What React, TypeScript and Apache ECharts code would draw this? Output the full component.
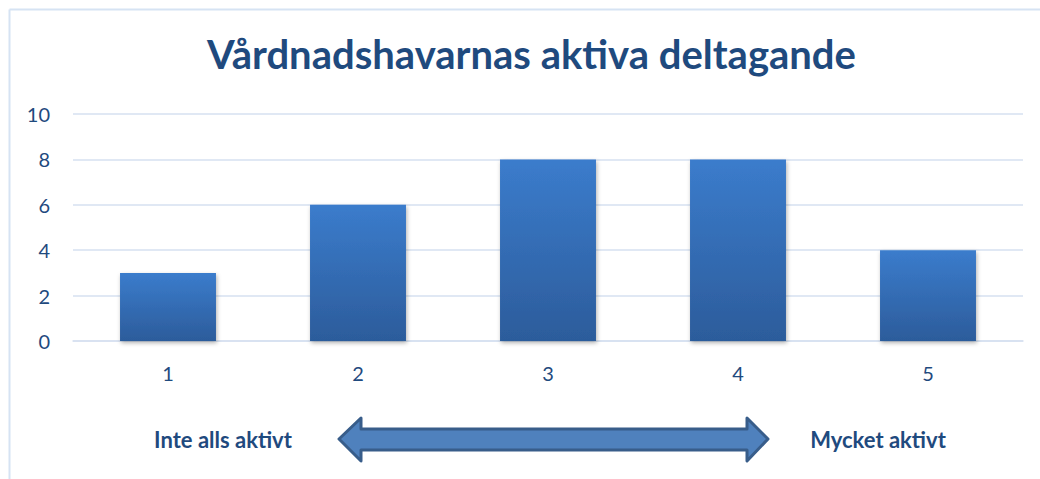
import React, { useEffect, useRef } from "react";
import * as echarts from "echarts";

const categories = ["1", "2", "3", "4", "5"];
const values = [3, 6, 8, 8, 4];
const yTicks = { min: 0, max: 10, interval: 2 };
const titleText = "Vårdnadshavarnas aktiva deltagande";
const leftLabel = "Inte alls aktivt";
const rightLabel = "Mycket aktivt";

const TEXT = "#1F4A7E";
const FONT = "Lato, 'Open Sans', sans-serif";

export default function App() {
  const ref = useRef<HTMLDivElement>(null);
  useEffect(() => {
    document.body.style.margin = "0";
    const chart = echarts.init(ref.current!, undefined, { renderer: "svg" });
    const arrowPts = [
      [339, 439], [361, 418], [361, 429], [747, 429], [747, 418], [768, 439],
      [747, 461], [747, 450], [361, 450], [361, 461],
    ];
    chart.setOption({
      animation: false,
      backgroundColor: "#ffffff",
      title: {
        text: titleText,
        left: 202,
        top: 29,
        textStyle: { fontFamily: FONT, fontWeight: "bold", fontSize: 40, color: TEXT },
      },
      grid: { left: 73, right: 17, top: 114, bottom: 138, containLabel: false },
      xAxis: {
        type: "category",
        data: categories,
        axisLine: { show: true, lineStyle: { color: "#D6E0F0", width: 1.5 } },
        axisTick: { show: false },
        axisLabel: { color: TEXT, fontSize: 20, fontFamily: FONT, margin: 22 },
      },
      yAxis: {
        type: "value",
        min: yTicks.min,
        max: yTicks.max,
        interval: yTicks.interval,
        axisLine: { show: false },
        axisTick: { show: false },
        splitLine: { lineStyle: { color: "#D6E0F0", width: 1.5 } },
        axisLabel: { color: TEXT, fontSize: 20, fontFamily: FONT, margin: 23 },
      },
      series: [
        {
          type: "bar",
          data: values,
          barWidth: "50.5%",
          itemStyle: {
            color: new echarts.graphic.LinearGradient(0, 0, 0, 1, [
              { offset: 0, color: "#3B7CCC" },
              { offset: 1, color: "#2C5C9B" },
            ]),
            shadowBlur: 4,
            shadowColor: "rgba(0,0,0,0.3)",
            shadowOffsetX: 1,
            shadowOffsetY: 2,
          },
        },
      ],
      graphic: [
        { type: "line", shape: { x1: 9.5, y1: 9.5, x2: 1040, y2: 9.5 }, style: { stroke: "#D6E3F3", lineWidth: 2 } },
        { type: "line", shape: { x1: 9.5, y1: 9.5, x2: 9.5, y2: 479 }, style: { stroke: "#D6E3F3", lineWidth: 2 } },
        {
          type: "text",
          x: 223,
          y: 439,
          style: { text: leftLabel, fill: TEXT, font: `bold 22px ${FONT}`, align: "center", verticalAlign: "middle" },
        },
        {
          type: "text",
          x: 878,
          y: 439,
          style: { text: rightLabel, fill: TEXT, font: `bold 22px ${FONT}`, align: "center", verticalAlign: "middle" },
        },
        {
          type: "polygon",
          shape: { points: arrowPts },
          style: { fill: "#4F81BD", stroke: "#385D8A", lineWidth: 3, lineJoin: "round" },
        },
      ],
    });
    return () => chart.dispose();
  }, []);
  return <div ref={ref} style={{ position: "fixed", left: 0, top: 0, width: 1040, height: 479 }} />;
}
